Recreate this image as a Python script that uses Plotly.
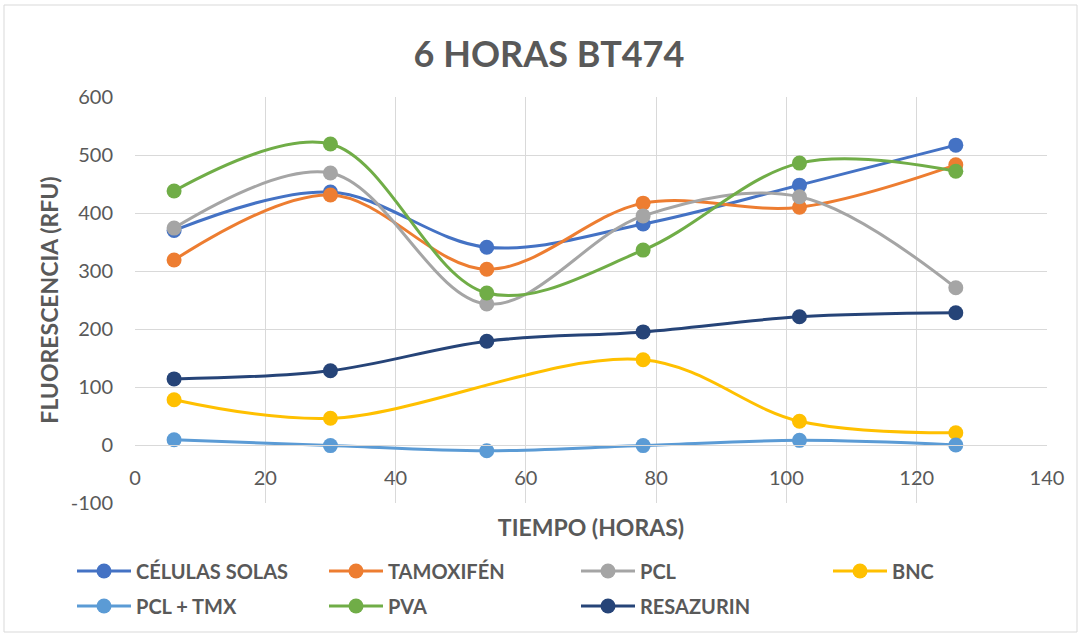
import plotly.graph_objects as go

x_hours = [6, 30, 54, 78, 102, 126]
celulas_solas = [370, 436, 341, 381, 448, 517]
tamoxifen = [319, 431, 303, 417, 410, 483]
pcl = [374, 469, 243, 395, 428, 271]
bnc = [78, 46, None, 147, 41, 21]
pcl_tmx = [9, -1, -10, -1, 8, 0]
pva = [438, 519, 262, 336, 486, 472]
resazurin = [114, 128, 179, 195, 221, 228]

series_names = ["CÉLULAS SOLAS", "TAMOXIFÉN", "PCL", "BNC", "PCL + TMX", "PVA", "RESAZURIN"]
series_values = [celulas_solas, tamoxifen, pcl, bnc, pcl_tmx, pva, resazurin]
series_colors = ["#4472C4", "#ED7D31", "#A5A5A5", "#FFC000", "#5B9BD5", "#70AD47", "#264478"]
series_legend = ["legend", "legend", "legend", "legend", "legend2", "legend2", "legend2"]

x_ticks = [0, 20, 40, 60, 80, 100, 120, 140]
y_ticks = [-100, 0, 100, 200, 300, 400, 500, 600]
y_tick_labels = [str(v) for v in y_ticks]

FONT = "Lato, Carlito, Calibri, sans-serif"
GREY = "#595959"

fig = go.Figure()
for name, vals, col, lg in zip(series_names, series_values, series_colors, series_legend):
    fig.add_trace(go.Scatter(
        x=x_hours, y=vals, name=name, mode="lines+markers",
        connectgaps=True, legend=lg,
        line=dict(color=col, width=3, shape="spline", smoothing=1),
        marker=dict(color=col, size=15),
    ))

W, H = 1081, 636
L, R, T, B = 135, 34, 97, 133
pw = W - L - R
ph = H - T - B


def py(ypx):
    return (T + ph - ypx) / ph


def px(xpx):
    return (xpx - L) / pw


legend_common = dict(orientation="h", xanchor="left", yanchor="middle",
                     itemwidth=54, entrywidth=183, entrywidthmode="pixels",
                     font=dict(size=20, color=GREY, family=FONT, weight="bold"),
                     bgcolor="rgba(0,0,0,0)", borderwidth=0)

fig.update_layout(
    width=W, height=H,
    margin=dict(l=L, r=R, t=T, b=B, autoexpand=False),
    paper_bgcolor="white", plot_bgcolor="white",
    font=dict(family=FONT, color=GREY, size=20),
    title=dict(text="<b>6 HORAS BT474</b>", x=549 / W, xanchor="center", y=1 - 54 / H, yanchor="middle",
               font=dict(size=36, color=GREY, family=FONT)),
    xaxis=dict(range=[0, 140], tickvals=x_ticks, showgrid=True, gridcolor="#D9D9D9", gridwidth=1,
               zeroline=False, showline=True, linecolor="#D9D9D9", linewidth=1,
               anchor="free", position=100 / 700, ticks="", ticklabelstandoff=15,
               tickfont=dict(size=20, color=GREY),
               title=dict(text="<b>TIEMPO (HORAS)</b>", font=dict(size=23, color=GREY), standoff=31)),
    yaxis=dict(range=[-100, 600], tickvals=y_ticks, ticktext=y_tick_labels, showgrid=True,
               gridcolor="#D9D9D9", gridwidth=1,
               zeroline=False, showline=False, ticks="", ticklabelstandoff=21,
               tickfont=dict(size=20, color=GREY),
               title=dict(text="<b>FLUORESCENCIA (RFU)</b>", font=dict(size=23, color=GREY), standoff=5)),
    legend=dict(x=px(72), y=py(571), **legend_common),
    legend2=dict(x=px(72), y=py(606), **legend_common),
    showlegend=True,
)
# outer chart border
fig.add_shape(type="rect", xref="paper", yref="paper",
              x0=px(4), x1=px(W - 4), y0=py(H - 4), y1=py(5),
              line=dict(color="#D9D9D9", width=1), fillcolor="rgba(0,0,0,0)", layer="below")

fig.write_html("out.html", config={"displayModeBar": False},
               post_script="document.body.style.margin='0';document.body.style.padding='0';")
